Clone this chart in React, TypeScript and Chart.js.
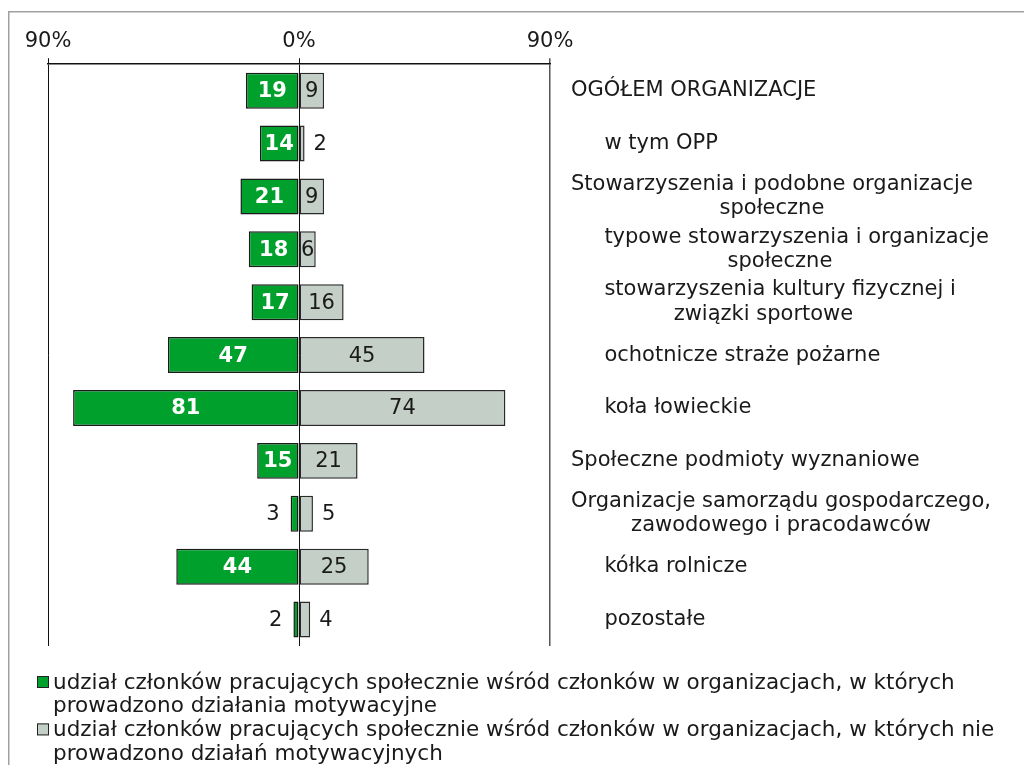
import React, { useEffect, useRef } from "react";
import { Chart, registerables } from "chart.js";

Chart.register(...registerables);

// ---- DATA ----
const categories: string[][] = [
  ["OGÓŁEM ORGANIZACJE"],
  ["     w tym OPP"],
  ["Stowarzyszenia i podobne organizacje", "społeczne"],
  ["     typowe stowarzyszenia i organizacje", "społeczne"],
  ["     stowarzyszenia kultury fizycznej i", "związki sportowe"],
  ["     ochotnicze straże pożarne"],
  ["     koła łowieckie"],
  ["Społeczne podmioty wyznaniowe"],
  ["Organizacje samorządu gospodarczego,", "zawodowego i pracodawców"],
  ["     kółka rolnicze"],
  ["     pozostałe"],
];

const motivated: number[] = [19, 14, 21, 18, 17, 47, 81, 15, 3, 44, 2];
const notMotivated: number[] = [9, 2, 9, 6, 16, 45, 74, 21, 5, 25, 4];

const axisTicks: number[] = [-90, 0, 90];

const legendMotivated: string[] = [
  "udział członków pracujących społecznie wśród członków w organizacjach, w których",
  "prowadzono działania motywacyjne",
];
const legendNotMotivated: string[] = [
  "udział członków pracujących społecznie wśród członków w organizacjach, w których nie",
  "prowadzono działań motywacyjnych",
];

// ---- STYLE ----
const GREEN = "#00A02C";
const GREY = "#C3CFC7";
const FONT = "'DejaVu Sans', Verdana, sans-serif";
const TEXT = "#1a1a1a";

const framePlugin = {
  id: "frame",
  beforeDraw(chart: any) {
    const ctx = chart.ctx;
    ctx.save();
    ctx.strokeStyle = "#a0a0a0";
    ctx.lineWidth = 1.5;
    ctx.beginPath();
    ctx.moveTo(0.75, chart.height);
    ctx.lineTo(0.75, 3.75);
    ctx.lineTo(chart.width, 3.75);
    ctx.stroke();
    ctx.restore();
  },
};

const barLabelPlugin = {
  id: "barLabels",
  afterDatasetsDraw(chart: any) {
    const ctx = chart.ctx;
    ctx.save();
    ctx.textBaseline = "middle";
    chart.data.datasets.forEach((ds: any, di: number) => {
      const meta = chart.getDatasetMeta(di);
      const values = di === 0 ? motivated : notMotivated;
      meta.data.forEach((el: any, i: number) => {
        const { x, y, base } = el.getProps(["x", "y", "base"], true);
        const w = Math.abs(x - base);
        const text = String(values[i]);
        const inside = w >= 15;
        if (di === 0) {
          ctx.font = inside ? `bold 21px ${FONT}` : `21px ${FONT}`;
          ctx.fillStyle = inside ? "#ffffff" : TEXT;
          ctx.textAlign = inside ? "center" : "right";
          ctx.fillText(text, inside ? (x + base) / 2 : Math.min(x, base) - 11, y + 1);
        } else {
          ctx.font = `21px ${FONT}`;
          ctx.fillStyle = TEXT;
          ctx.textAlign = inside ? "center" : "left";
          ctx.fillText(text, inside ? (x + base) / 2 : Math.max(x, base) + 9, y + 1);
        }
      });
    });
    ctx.restore();
  },
};

const categoryLabelPlugin = {
  id: "categoryLabels",
  afterDraw(chart: any) {
    const ctx = chart.ctx;
    const yScale = chart.scales.y;
    const x0 = chart.chartArea.right + 21;
    const lh = 24.5;
    ctx.save();
    ctx.font = `21px ${FONT}`;
    ctx.fillStyle = TEXT;
    ctx.textBaseline = "middle";
    ctx.textAlign = "center";
    categories.forEach((lines, i) => {
      const yc = yScale.getPixelForValue(i);
      const cx = x0 + ctx.measureText(lines[0]).width / 2;
      lines.forEach((line, k) => {
        ctx.fillText(line, cx, yc + (k - (lines.length - 1) / 2) * lh);
      });
    });
    ctx.restore();
  },
};

const legendPlugin = {
  id: "customLegend",
  afterDraw(chart: any) {
    const ctx = chart.ctx;
    const items = [
      { lines: legendMotivated, color: GREEN },
      { lines: legendNotMotivated, color: GREY },
    ];
    const boxX = chart.chartArea.left - 11;
    const textX = boxX + 16;
    const lh = 23.7;
    let y = chart.chartArea.bottom + 37;
    ctx.save();
    ctx.font = `21.5px ${FONT}`;
    ctx.textBaseline = "middle";
    ctx.textAlign = "left";
    items.forEach((item) => {
      ctx.fillStyle = item.color;
      ctx.fillRect(boxX, y - 7, 12, 12);
      ctx.strokeStyle = "#222";
      ctx.lineWidth = 1;
      ctx.strokeRect(boxX + 0.5, y - 6.5, 11, 11);
      ctx.fillStyle = TEXT;
      item.lines.forEach((line, k) => {
        ctx.fillText(line, textX, y + k * lh);
      });
      y += item.lines.length * lh;
    });
    ctx.restore();
  },
};

export default function App() {
  const canvasRef = useRef<HTMLCanvasElement | null>(null);

  useEffect(() => {
    if (!canvasRef.current) return;
    Chart.defaults.font.family = FONT;
    const chart = new Chart(canvasRef.current, {
      type: "bar",
      data: {
        labels: categories.map((l) => l.join(" ").trim()),
        datasets: [
          {
            label: legendMotivated.join(" "),
            data: motivated.map((v) => -v),
            backgroundColor: GREEN,
            borderColor: "#1a1a1a",
            borderWidth: 1.5,
            borderSkipped: false,
            barPercentage: 0.68,
            categoryPercentage: 1,
          },
          {
            label: legendNotMotivated.join(" "),
            data: notMotivated,
            backgroundColor: GREY,
            borderColor: "#2a2a2a",
            borderWidth: 1.5,
            borderSkipped: false,
            barPercentage: 0.68,
            categoryPercentage: 1,
          },
        ],
      },
      options: {
        indexAxis: "y",
        animation: false,
        responsive: true,
        maintainAspectRatio: false,
        layout: { padding: { left: 40, right: 474, top: 17, bottom: 119 } },
        plugins: {
          legend: { display: false },
          tooltip: { enabled: false },
        },
        scales: {
          x: {
            position: "top",
            min: -90,
            max: 90,
            stacked: true,
            afterBuildTicks: (scale: any) => {
              scale.ticks = axisTicks.map((v) => ({ value: v }));
            },
            ticks: {
              autoSkip: false,
              maxRotation: 0,
              padding: 4,
              color: TEXT,
              font: { family: FONT, size: 21 },
              callback: (v: any) => Math.abs(Number(v)) + "%",
            },
            grid: {
              drawOnChartArea: true,
              drawTicks: true,
              tickLength: 6,
              color: (c: any) => (c.index === 2 ? "#555555" : "#111111"),
              lineWidth: (c: any) => (c.index === 2 ? 1.5 : 1),
            },
            border: { display: true, color: "#111111", width: 1.5 },
          },
          y: {
            display: false,
            stacked: true,
          },
        },
      },
      plugins: [framePlugin, barLabelPlugin, categoryLabelPlugin, legendPlugin],
    } as any);
    return () => chart.destroy();
  }, []);

  return (
    <div style={{ position: "relative", width: 1016, height: 757 }}>
      <canvas ref={canvasRef} style={{ display: "block" }} />
    </div>
  );
}
